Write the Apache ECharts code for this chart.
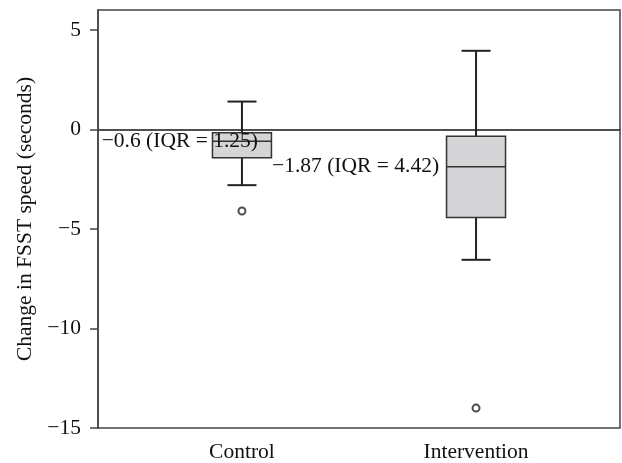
<!DOCTYPE html>
<html>
<head>
<meta charset="utf-8">
<script src="https://cdn.jsdelivr.net/npm/echarts@6/dist/echarts.min.js"></script>
<style>
  html, body { margin: 0; padding: 0; background: #fff; }
  #chart { width: 622px; height: 463px; }
</style>
</head>
<body>
<div id="chart"></div>
<script>
// groups and their x positions
var categories = ['Control', 'Intervention'];
var positions = [1, 2];

// box statistics
var lowWhisker = [-2.8, -6.55];
var q1 = [-1.42, -4.42];
var median = [-0.6, -1.87];
var q3 = [-0.17, -0.34];
var highWhisker = [1.4, 3.95];

// outliers [group position, value]
var outliers = [[1, -4.1], [2, -14.0]];

// annotations next to the boxes
var boxLabels = ['\u22120.6 (IQR = 1.25)', '\u22121.87 (IQR = 4.42)'];

var yTicks = [-15, -10, -5, 0, 5];

var FONT = '"Liberation Serif", "DejaVu Serif", serif';
var FS = 21.5;

var boxData = positions.map(function (p, i) {
  return [p, lowWhisker[i], q1[i], median[i], q3[i], highWhisker[i]];
});

// label right edge relative to box centre (px)
var labelShift = [16, -37];

function renderBox(params, api) {
  var x = api.value(0);
  var lo = api.coord([x, api.value(1)]);
  var b1 = api.coord([x, api.value(2)]);
  var md = api.coord([x, api.value(3)]);
  var b3 = api.coord([x, api.value(4)]);
  var hi = api.coord([x, api.value(5)]);
  var cx = lo[0];
  var boxW = 59, capW = 29;
  var whisk = { stroke: '#222', lineWidth: 2 };
  return {
    type: 'group',
    children: [
      { type: 'line', shape: { x1: cx, y1: hi[1], x2: cx, y2: lo[1] }, style: whisk },
      { type: 'line', shape: { x1: cx - capW / 2, y1: hi[1], x2: cx + capW / 2, y2: hi[1] }, style: whisk },
      { type: 'line', shape: { x1: cx - capW / 2, y1: lo[1], x2: cx + capW / 2, y2: lo[1] }, style: whisk },
      {
        type: 'rect',
        shape: { x: cx - boxW / 2, y: b3[1], width: boxW, height: b1[1] - b3[1] },
        style: { fill: '#d5d5d7', stroke: '#333', lineWidth: 1.5 }
      },
      { type: 'line', shape: { x1: cx - boxW / 2, y1: md[1], x2: cx + boxW / 2, y2: md[1] }, style: { stroke: '#333', lineWidth: 1.5 } },
      {
        type: 'text',
        style: {
          x: cx + labelShift[params.dataIndex], y: md[1],
          text: boxLabels[params.dataIndex],
          align: 'right', verticalAlign: 'middle',
          fontFamily: FONT, fontSize: FS, fill: '#111'
        }
      }
    ]
  };
}

var chart = echarts.init(document.getElementById('chart'));
chart.setOption({
  animation: false,
  grid: {
    left: 98, right: 2, top: 10, bottom: 34,
    show: true, borderColor: '#444', borderWidth: 1.5, backgroundColor: 'transparent'
  },
  xAxis: {
    type: 'value',
    min: 0.385,
    max: 2.615,
    splitLine: { show: false },
    axisLine: { lineStyle: { color: '#444', width: 1.5 } },
    axisTick: { customValues: positions, length: 7, lineStyle: { color: '#444', width: 1.5 } },
    axisLabel: {
      customValues: positions,
      margin: 13,
      color: '#111',
      fontFamily: FONT,
      fontSize: FS,
      formatter: function (v) { return categories[positions.indexOf(Math.round(v))] || ''; }
    }
  },
  yAxis: {
    type: 'value',
    min: -15,
    max: 6,
    interval: 5,
    name: 'Change in FSST speed (seconds)',
    nameLocation: 'middle',
    nameGap: 59,
    nameTextStyle: { fontFamily: FONT, fontSize: FS, color: '#111' },
    splitLine: { show: false },
    axisLine: { lineStyle: { color: '#444', width: 1.5 } },
    axisTick: { customValues: yTicks, length: 8, lineStyle: { color: '#444', width: 1.5 } },
    axisLabel: {
      customValues: yTicks,
      margin: 17,
      color: '#111',
      fontFamily: FONT,
      fontSize: FS,
      formatter: function (v) { return String(v).replace('-', '\u2212'); }
    }
  },
  series: [
    {
      type: 'custom',
      renderItem: renderBox,
      data: boxData,
      encode: { x: 0, y: [1, 2, 3, 4, 5] },
      z: 3,
      markLine: {
        silent: true,
        symbol: 'none',
        label: { show: false },
        lineStyle: { color: '#444', width: 1.5, type: 'solid' },
        data: [{ yAxis: 0 }],
        z: 1
      }
    },
    {
      type: 'scatter',
      data: outliers,
      symbol: 'emptyCircle',
      symbolSize: 7,
      itemStyle: { color: '#222', borderColor: '#222', borderWidth: 1.3 },
      z: 4
    }
  ]
});
</script>
</body>
</html>
